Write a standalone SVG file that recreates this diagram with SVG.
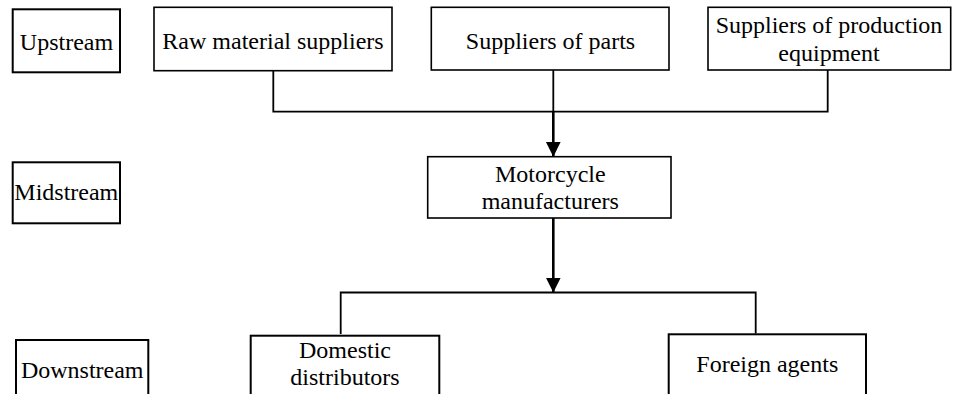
<svg xmlns="http://www.w3.org/2000/svg" width="958" height="394" viewBox="0 0 958 394">
  <style>
    .box { fill: #ffffff; stroke: #000000; stroke-width: 1.6; }
    .lbl { fill: #ffffff; stroke: #000000; stroke-width: 2; }
    .t { font-family: 'Liberation Serif', 'DejaVu Serif', serif; font-size: 24px; fill: #000000; text-anchor: middle; }
    .ln { fill: none; stroke: #000000; stroke-width: 1.8; }
    .ar { fill: none; stroke: #000000; stroke-width: 2.6; }
  </style>
  <defs>
    <marker id="arrow" markerUnits="userSpaceOnUse" markerWidth="16" markerHeight="16" refX="15" refY="7.5" orient="auto">
      <path d="M0,0 L15,7.5 L0,15 Z" fill="#000000"/>
    </marker>
  </defs>

  <g id="connectors">
    <polyline class="ln" points="273.3,70.7 273.3,111.7 827.7,111.7 827.7,70"/>
    <line class="ln" x1="553.3" y1="70" x2="553.3" y2="111.7"/>
    <line class="ar" x1="553.3" y1="111.7" x2="553.3" y2="156.7" marker-end="url(#arrow)"/>
    <line class="ar" x1="553.3" y1="218" x2="553.3" y2="292.5" marker-end="url(#arrow)"/>
    <polyline class="ln" points="340.7,334 340.7,292.5 755.7,292.5 755.7,333.5"/>
  </g>

  <g id="upstream">
    <rect class="lbl" x="12.7" y="9.3" width="107.3" height="63"/>
    <text class="t" font-family="Liberation Serif, serif" x="66.5" y="50">Upstream</text>
  </g>
  <g id="raw-material-suppliers">
    <rect class="box" x="154" y="7.3" width="238" height="63.4"/>
    <text class="t" x="273" y="49">Raw material suppliers</text>
  </g>
  <g id="suppliers-of-parts">
    <rect class="box" x="431.3" y="7.3" width="237.7" height="62.7"/>
    <text class="t" x="550.5" y="49">Suppliers of parts</text>
  </g>
  <g id="suppliers-of-production-equipment">
    <rect class="box" x="708" y="7.3" width="242.7" height="62.7"/>
    <text class="t" x="829" y="33">Suppliers of production</text>
    <text class="t" x="829" y="60.5">equipment</text>
  </g>

  <g id="midstream">
    <rect class="lbl" x="12.7" y="162.3" width="107.3" height="61"/>
    <text class="t" x="66.3" y="200">Midstream</text>
  </g>
  <g id="motorcycle-manufacturers">
    <rect class="box" x="427.7" y="156.7" width="243.3" height="61.3"/>
    <text class="t" x="550.3" y="181.6">Motorcycle</text>
    <text class="t" x="550.3" y="209.1">manufacturers</text>
  </g>

  <g id="downstream">
    <rect class="lbl" x="16" y="340" width="132.3" height="60"/>
    <text class="t" x="82.2" y="378.3">Downstream</text>
  </g>
  <g id="domestic-distributors">
    <rect class="lbl" x="250.7" y="335.7" width="188.6" height="64"/>
    <text class="t" x="345" y="358.3">Domestic</text>
    <text class="t" x="345" y="385">distributors</text>
  </g>
  <g id="foreign-agents">
    <rect class="lbl" x="668.7" y="334.3" width="197.3" height="66"/>
    <text class="t" x="767.3" y="371.7">Foreign agents</text>
  </g>
</svg>
